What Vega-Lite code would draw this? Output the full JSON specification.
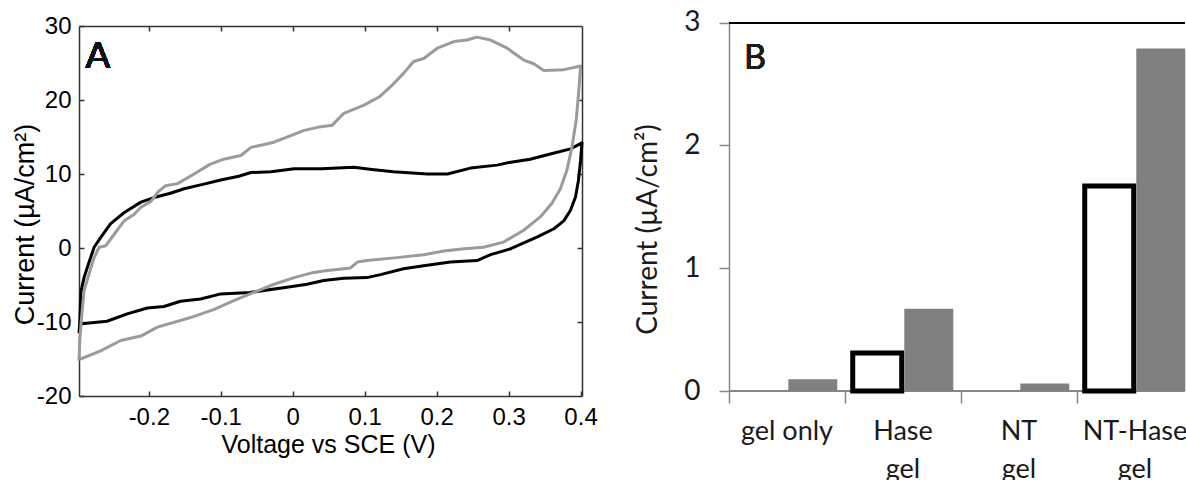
{
  "$schema": "https://vega.github.io/schema/vega-lite/v6.json",
  "padding": {"left": 11, "top": 8, "right": 0, "bottom": 0},
  "background": "white",
  "spacing": 147,
  "bounds": "flush",
  "config": {"view": {"stroke": null}, "axis": {"grid": false}},
  "datasets": {
    "cv": [
      {"series": "gel", "k": 1, "v": -0.297, "i": -11.5},
      {"series": "gel", "k": 2, "v": -0.296, "i": -10.3},
      {"series": "gel", "k": 3, "v": -0.295, "i": -7.5},
      {"series": "gel", "k": 4, "v": -0.294, "i": -5.8},
      {"series": "gel", "k": 5, "v": -0.29, "i": -4.0},
      {"series": "gel", "k": 6, "v": -0.284, "i": -2.2},
      {"series": "gel", "k": 7, "v": -0.276, "i": 0.1},
      {"series": "gel", "k": 8, "v": -0.267, "i": 1.4},
      {"series": "gel", "k": 9, "v": -0.253, "i": 3.3},
      {"series": "gel", "k": 10, "v": -0.234, "i": 4.8},
      {"series": "gel", "k": 11, "v": -0.211, "i": 6.2},
      {"series": "gel", "k": 12, "v": -0.19, "i": 6.9},
      {"series": "gel", "k": 13, "v": -0.17, "i": 7.4},
      {"series": "gel", "k": 14, "v": -0.151, "i": 8.0},
      {"series": "gel", "k": 15, "v": -0.125, "i": 8.6},
      {"series": "gel", "k": 16, "v": -0.1, "i": 9.2},
      {"series": "gel", "k": 17, "v": -0.075, "i": 9.7},
      {"series": "gel", "k": 18, "v": -0.058, "i": 10.2},
      {"series": "gel", "k": 19, "v": -0.03, "i": 10.3},
      {"series": "gel", "k": 20, "v": 0.002, "i": 10.7},
      {"series": "gel", "k": 21, "v": 0.04, "i": 10.7},
      {"series": "gel", "k": 22, "v": 0.085, "i": 10.9},
      {"series": "gel", "k": 23, "v": 0.11, "i": 10.6},
      {"series": "gel", "k": 24, "v": 0.14, "i": 10.3},
      {"series": "gel", "k": 25, "v": 0.187, "i": 10.0},
      {"series": "gel", "k": 26, "v": 0.215, "i": 10.0},
      {"series": "gel", "k": 27, "v": 0.247, "i": 10.8},
      {"series": "gel", "k": 28, "v": 0.284, "i": 11.2},
      {"series": "gel", "k": 29, "v": 0.303, "i": 11.6},
      {"series": "gel", "k": 30, "v": 0.33, "i": 12.0},
      {"series": "gel", "k": 31, "v": 0.358, "i": 12.7},
      {"series": "gel", "k": 32, "v": 0.386, "i": 13.4},
      {"series": "gel", "k": 33, "v": 0.402, "i": 14.2},
      {"series": "gel", "k": 34, "v": 0.4, "i": 11.8},
      {"series": "gel", "k": 35, "v": 0.397, "i": 9.1},
      {"series": "gel", "k": 36, "v": 0.393, "i": 6.9},
      {"series": "gel", "k": 37, "v": 0.386, "i": 5.1},
      {"series": "gel", "k": 38, "v": 0.377, "i": 3.7},
      {"series": "gel", "k": 39, "v": 0.363, "i": 2.6},
      {"series": "gel", "k": 40, "v": 0.34, "i": 1.5},
      {"series": "gel", "k": 41, "v": 0.303, "i": -0.1},
      {"series": "gel", "k": 42, "v": 0.275, "i": -0.9},
      {"series": "gel", "k": 43, "v": 0.256, "i": -1.7},
      {"series": "gel", "k": 44, "v": 0.219, "i": -1.9},
      {"series": "gel", "k": 45, "v": 0.182, "i": -2.4},
      {"series": "gel", "k": 46, "v": 0.154, "i": -2.8},
      {"series": "gel", "k": 47, "v": 0.122, "i": -3.6},
      {"series": "gel", "k": 48, "v": 0.103, "i": -4.0},
      {"series": "gel", "k": 49, "v": 0.071, "i": -4.1},
      {"series": "gel", "k": 50, "v": 0.043, "i": -4.4},
      {"series": "gel", "k": 51, "v": 0.02, "i": -4.9},
      {"series": "gel", "k": 52, "v": -0.008, "i": -5.3},
      {"series": "gel", "k": 53, "v": -0.059, "i": -6.0},
      {"series": "gel", "k": 54, "v": -0.1, "i": -6.2},
      {"series": "gel", "k": 55, "v": -0.128, "i": -6.9},
      {"series": "gel", "k": 56, "v": -0.156, "i": -7.2},
      {"series": "gel", "k": 57, "v": -0.179, "i": -7.9},
      {"series": "gel", "k": 58, "v": -0.202, "i": -8.1},
      {"series": "gel", "k": 59, "v": -0.23, "i": -8.9},
      {"series": "gel", "k": 60, "v": -0.258, "i": -9.9},
      {"series": "gel", "k": 61, "v": -0.29, "i": -10.2},
      {"series": "gel", "k": 62, "v": -0.296, "i": -10.3},
      {"series": "NT", "k": 1, "v": -0.297, "i": -15.2},
      {"series": "NT", "k": 2, "v": -0.296, "i": -12.5},
      {"series": "NT", "k": 3, "v": -0.293, "i": -8.9},
      {"series": "NT", "k": 4, "v": -0.29, "i": -5.8},
      {"series": "NT", "k": 5, "v": -0.283, "i": -3.5},
      {"series": "NT", "k": 6, "v": -0.276, "i": -1.3},
      {"series": "NT", "k": 7, "v": -0.269, "i": 0.1},
      {"series": "NT", "k": 8, "v": -0.26, "i": 0.3},
      {"series": "NT", "k": 9, "v": -0.244, "i": 2.4},
      {"series": "NT", "k": 10, "v": -0.234, "i": 3.7},
      {"series": "NT", "k": 11, "v": -0.221, "i": 4.5},
      {"series": "NT", "k": 12, "v": -0.211, "i": 5.5},
      {"series": "NT", "k": 13, "v": -0.197, "i": 6.3},
      {"series": "NT", "k": 14, "v": -0.187, "i": 7.6},
      {"series": "NT", "k": 15, "v": -0.177, "i": 8.4},
      {"series": "NT", "k": 16, "v": -0.16, "i": 8.7},
      {"series": "NT", "k": 17, "v": -0.137, "i": 10.0},
      {"series": "NT", "k": 18, "v": -0.115, "i": 11.3},
      {"series": "NT", "k": 19, "v": -0.096, "i": 12.0},
      {"series": "NT", "k": 20, "v": -0.072, "i": 12.5},
      {"series": "NT", "k": 21, "v": -0.058, "i": 13.6},
      {"series": "NT", "k": 22, "v": -0.026, "i": 14.3},
      {"series": "NT", "k": 23, "v": 0.016, "i": 15.9},
      {"series": "NT", "k": 24, "v": 0.039, "i": 16.4},
      {"series": "NT", "k": 25, "v": 0.055, "i": 16.6},
      {"series": "NT", "k": 26, "v": 0.071, "i": 18.2},
      {"series": "NT", "k": 27, "v": 0.099, "i": 19.3},
      {"series": "NT", "k": 28, "v": 0.12, "i": 20.4},
      {"series": "NT", "k": 29, "v": 0.136, "i": 21.8},
      {"series": "NT", "k": 30, "v": 0.154, "i": 23.6},
      {"series": "NT", "k": 31, "v": 0.168, "i": 25.2},
      {"series": "NT", "k": 32, "v": 0.182, "i": 25.6},
      {"series": "NT", "k": 33, "v": 0.201, "i": 27.0},
      {"series": "NT", "k": 34, "v": 0.224, "i": 27.9},
      {"series": "NT", "k": 35, "v": 0.242, "i": 28.1},
      {"series": "NT", "k": 36, "v": 0.256, "i": 28.5},
      {"series": "NT", "k": 37, "v": 0.275, "i": 28.1},
      {"series": "NT", "k": 38, "v": 0.298, "i": 27.0},
      {"series": "NT", "k": 39, "v": 0.321, "i": 25.4},
      {"series": "NT", "k": 40, "v": 0.335, "i": 24.9},
      {"series": "NT", "k": 41, "v": 0.349, "i": 24.0},
      {"series": "NT", "k": 42, "v": 0.377, "i": 24.1},
      {"series": "NT", "k": 43, "v": 0.4, "i": 24.6},
      {"series": "NT", "k": 44, "v": 0.398, "i": 21.8},
      {"series": "NT", "k": 45, "v": 0.394, "i": 17.3},
      {"series": "NT", "k": 46, "v": 0.388, "i": 13.6},
      {"series": "NT", "k": 47, "v": 0.381, "i": 10.5},
      {"series": "NT", "k": 48, "v": 0.372, "i": 8.0},
      {"series": "NT", "k": 49, "v": 0.36, "i": 6.0},
      {"series": "NT", "k": 50, "v": 0.344, "i": 4.2},
      {"series": "NT", "k": 51, "v": 0.321, "i": 2.4},
      {"series": "NT", "k": 52, "v": 0.293, "i": 0.8},
      {"series": "NT", "k": 53, "v": 0.265, "i": 0.1},
      {"series": "NT", "k": 54, "v": 0.238, "i": -0.1},
      {"series": "NT", "k": 55, "v": 0.21, "i": -0.4},
      {"series": "NT", "k": 56, "v": 0.182, "i": -0.9},
      {"series": "NT", "k": 57, "v": 0.145, "i": -1.3},
      {"series": "NT", "k": 58, "v": 0.103, "i": -1.7},
      {"series": "NT", "k": 59, "v": 0.09, "i": -1.9},
      {"series": "NT", "k": 60, "v": 0.08, "i": -2.7},
      {"series": "NT", "k": 61, "v": 0.043, "i": -3.1},
      {"series": "NT", "k": 62, "v": 0.029, "i": -3.3},
      {"series": "NT", "k": 63, "v": 0.002, "i": -4.0},
      {"series": "NT", "k": 64, "v": -0.026, "i": -4.9},
      {"series": "NT", "k": 65, "v": -0.054, "i": -6.0},
      {"series": "NT", "k": 66, "v": -0.082, "i": -7.1},
      {"series": "NT", "k": 67, "v": -0.109, "i": -8.3},
      {"series": "NT", "k": 68, "v": -0.142, "i": -9.4},
      {"series": "NT", "k": 69, "v": -0.188, "i": -10.7},
      {"series": "NT", "k": 70, "v": -0.211, "i": -11.9},
      {"series": "NT", "k": 71, "v": -0.239, "i": -12.5},
      {"series": "NT", "k": 72, "v": -0.267, "i": -13.9},
      {"series": "NT", "k": 73, "v": -0.295, "i": -15.0}
    ],
    "bars": [
      {"cat": "gel only", "s": "a", "val": null},
      {"cat": "gel only", "s": "b", "val": 0.095},
      {"cat": "Hase gel", "s": "a", "val": 0.31},
      {"cat": "Hase gel", "s": "b", "val": 0.67},
      {"cat": "NT gel", "s": "b", "val": 0.062},
      {"cat": "NT-Hase gel", "s": "a", "val": 1.67},
      {"cat": "NT-Hase gel", "s": "b", "val": 2.79}
    ]
  },
  "hconcat": [
    {
      "width": 503,
      "height": 370,
      "data": {"name": "cv"},
      "layer": [
        {
          "mark": {"type": "line", "strokeWidth": 3, "strokeJoin": "round"},
          "encoding": {
            "x": {
              "field": "v", "type": "quantitative",
              "scale": {"domain": [-0.297, 0.402], "nice": false, "zero": false},
              "axis": {
                "orient": "bottom",
                "values": [-0.2, -0.1, 0, 0.1, 0.2, 0.3, 0.4],
                "labelExpr": "datum.value == 0 ? '0' : (datum.value < 0 ? '-' : '') + format(abs(datum.value), '.1f')",
                "tickSize": -5, "tickColor": "#333333", "tickWidth": 1.5,
                "domainColor": "#333333", "domainWidth": 1.5,
                "labelPadding": 14, "labelFont": "Liberation Sans", "labelFontSize": 24, "labelColor": "#000000",
                "labelFlush": false, "labelOverlap": false, "labelBound": false,
                "title": "Voltage vs SCE (V)", "titleFont": "Liberation Sans", "titleFontSize": 25,
                "titleFontWeight": "normal", "titleColor": "#000000",
                "titleX": 249, "titleY": 48, "titleBaseline": "middle", "titleAlign": "center"
              }
            },
            "y": {
              "field": "i", "type": "quantitative",
              "scale": {"domain": [-20, 30], "nice": false, "zero": false},
              "axis": {
                "orient": "left",
                "values": [-20, -10, 0, 10, 20, 30],
                "labelExpr": "(datum.value < 0 ? '-' : '') + format(abs(datum.value), 'd')",
                "tickSize": -5, "tickColor": "#333333", "tickWidth": 1.5,
                "domainColor": "#333333", "domainWidth": 1.5,
                "labelPadding": 13, "labelFont": "Liberation Sans", "labelFontSize": 24, "labelColor": "#000000",
                "labelFlush": false, "labelOverlap": false, "labelBound": false,
                "title": "Current (µA/cm²)", "titleFont": "Liberation Sans", "titleFontSize": 27,
                "titleFontWeight": "normal", "titleColor": "#000000",
                "titleX": -54, "titleY": 198, "titleBaseline": "middle", "titleAlign": "center", "titleAngle": -90
              }
            },
            "color": {
              "field": "series", "type": "nominal",
              "scale": {"domain": ["gel", "NT"], "range": ["#000000", "#9b9b9b"]},
              "legend": null
            },
            "order": {"field": "k", "type": "quantitative"}
          }
        },
        {
          "mark": {"type": "point", "opacity": 0},
          "encoding": {
            "x": {
              "field": "v", "type": "quantitative",
              "axis": {
                "orient": "top", "values": [-0.2, -0.1, 0, 0.1, 0.2, 0.3], "labels": false, "title": null,
                "tickSize": -5, "tickColor": "#333333", "tickWidth": 1.5,
                "domainColor": "#333333", "domainWidth": 1.5
              }
            },
            "y": {
              "field": "i", "type": "quantitative",
              "axis": {
                "orient": "right", "values": [-10, 0, 10, 20], "labels": false, "title": null,
                "tickSize": -5, "tickColor": "#333333", "tickWidth": 1.5,
                "domainColor": "#333333", "domainWidth": 1.5
              }
            }
          }
        },
        {
          "mark": {"type": "text", "font": "Liberation Sans", "fontSize": 37, "fontWeight": "normal", "align": "left", "baseline": "alphabetic", "fill": "#111111"},
          "encoding": {
            "x": {"datum": -0.288, "type": "quantitative", "axis": null},
            "y": {"datum": 24.3, "type": "quantitative", "axis": null},
            "text": {"value": "A"}
          }
        }
      ],
      "resolve": {"axis": {"x": "independent", "y": "independent"}}
    },
    {
      "width": 456,
      "height": 365,
      "data": {"name": "bars"},
      "layer": [
        {
          "mark": {"type": "rule", "color": "#868686", "strokeWidth": 1.5},
          "encoding": {"y": {"datum": 0, "type": "quantitative"}}
        },
        {
          "mark": {"type": "rule", "color": "#000000", "strokeWidth": 1.5},
          "encoding": {"y": {"datum": 3, "type": "quantitative"}}
        },
        {
          "mark": {"type": "bar", "strokeWidth": 5, "strokeJoin": "miter"},
          "encoding": {
            "x": {
              "field": "cat", "type": "nominal", "sort": null,
              "scale": {"domain": ["gel only", "Hase gel", "NT gel", "NT-Hase gel"], "range": [0, 464], "paddingInner": 0, "paddingOuter": 0},
              "axis": {
                "orient": "bottom", "bandPosition": 0, "domain": false,
                "tickSize": 12, "tickColor": "#868686", "tickWidth": 1.5,
                "labelAngle": 0, "labelPadding": 15, "labelFont": "Lato", "labelFontSize": 27,
                "labelColor": "#1a1a1a", "labelLineHeight": 38, "labelBaseline": "top",
                "labelExpr": "datum.label == 'gel only' ? datum.label : split(datum.label, ' ')",
                "labelOverlap": false, "labelBound": false, "labelFlush": false,
                "title": null
              }
            },
            "xOffset": {
              "field": "s", "type": "nominal",
              "scale": {"domain": ["a", "b"], "paddingInner": 0.05, "paddingOuter": 0.15}
            },
            "y": {
              "field": "val", "type": "quantitative",
              "scale": {"domain": [0, 3], "range": [365, -3.3], "nice": false, "zero": true},
              "axis": {
                "values": [0, 1, 2, 3], "format": "d",
                "tickSize": 10, "tickColor": "#868686", "tickWidth": 1.5,
                "domainColor": "#868686", "domainWidth": 1.5,
                "labelPadding": 19, "labelFont": "Lato", "labelFontSize": 28, "labelColor": "#1a1a1a",
                "labelFlush": false, "labelOverlap": false, "labelBound": false,
                "title": "Current (µA/cm²)", "titleFont": "Lato", "titleFontSize": 28,
                "titleFontWeight": "normal", "titleColor": "#1a1a1a",
                "titleX": -81, "titleY": 203, "titleBaseline": "middle", "titleAlign": "center", "titleAngle": -90
              }
            },
            "fill": {
              "field": "s", "type": "nominal",
              "scale": {"domain": ["a", "b"], "range": ["#ffffff", "#808080"]},
              "legend": null
            },
            "stroke": {
              "field": "s", "type": "nominal",
              "scale": {"domain": ["a", "b"], "range": ["#000000", "transparent"]},
              "legend": null
            }
          }
        },
        {
          "mark": {"type": "text", "font": "Lato", "fontSize": 34, "fontWeight": "normal", "align": "left", "baseline": "alphabetic", "dx": 15, "fill": "#1a1a1a"},
          "encoding": {
            "x": {"datum": "gel only", "bandPosition": 0},
            "y": {"datum": 2.62, "type": "quantitative"},
            "text": {"value": "B"}
          }
        }
      ]
    }
  ]
}
